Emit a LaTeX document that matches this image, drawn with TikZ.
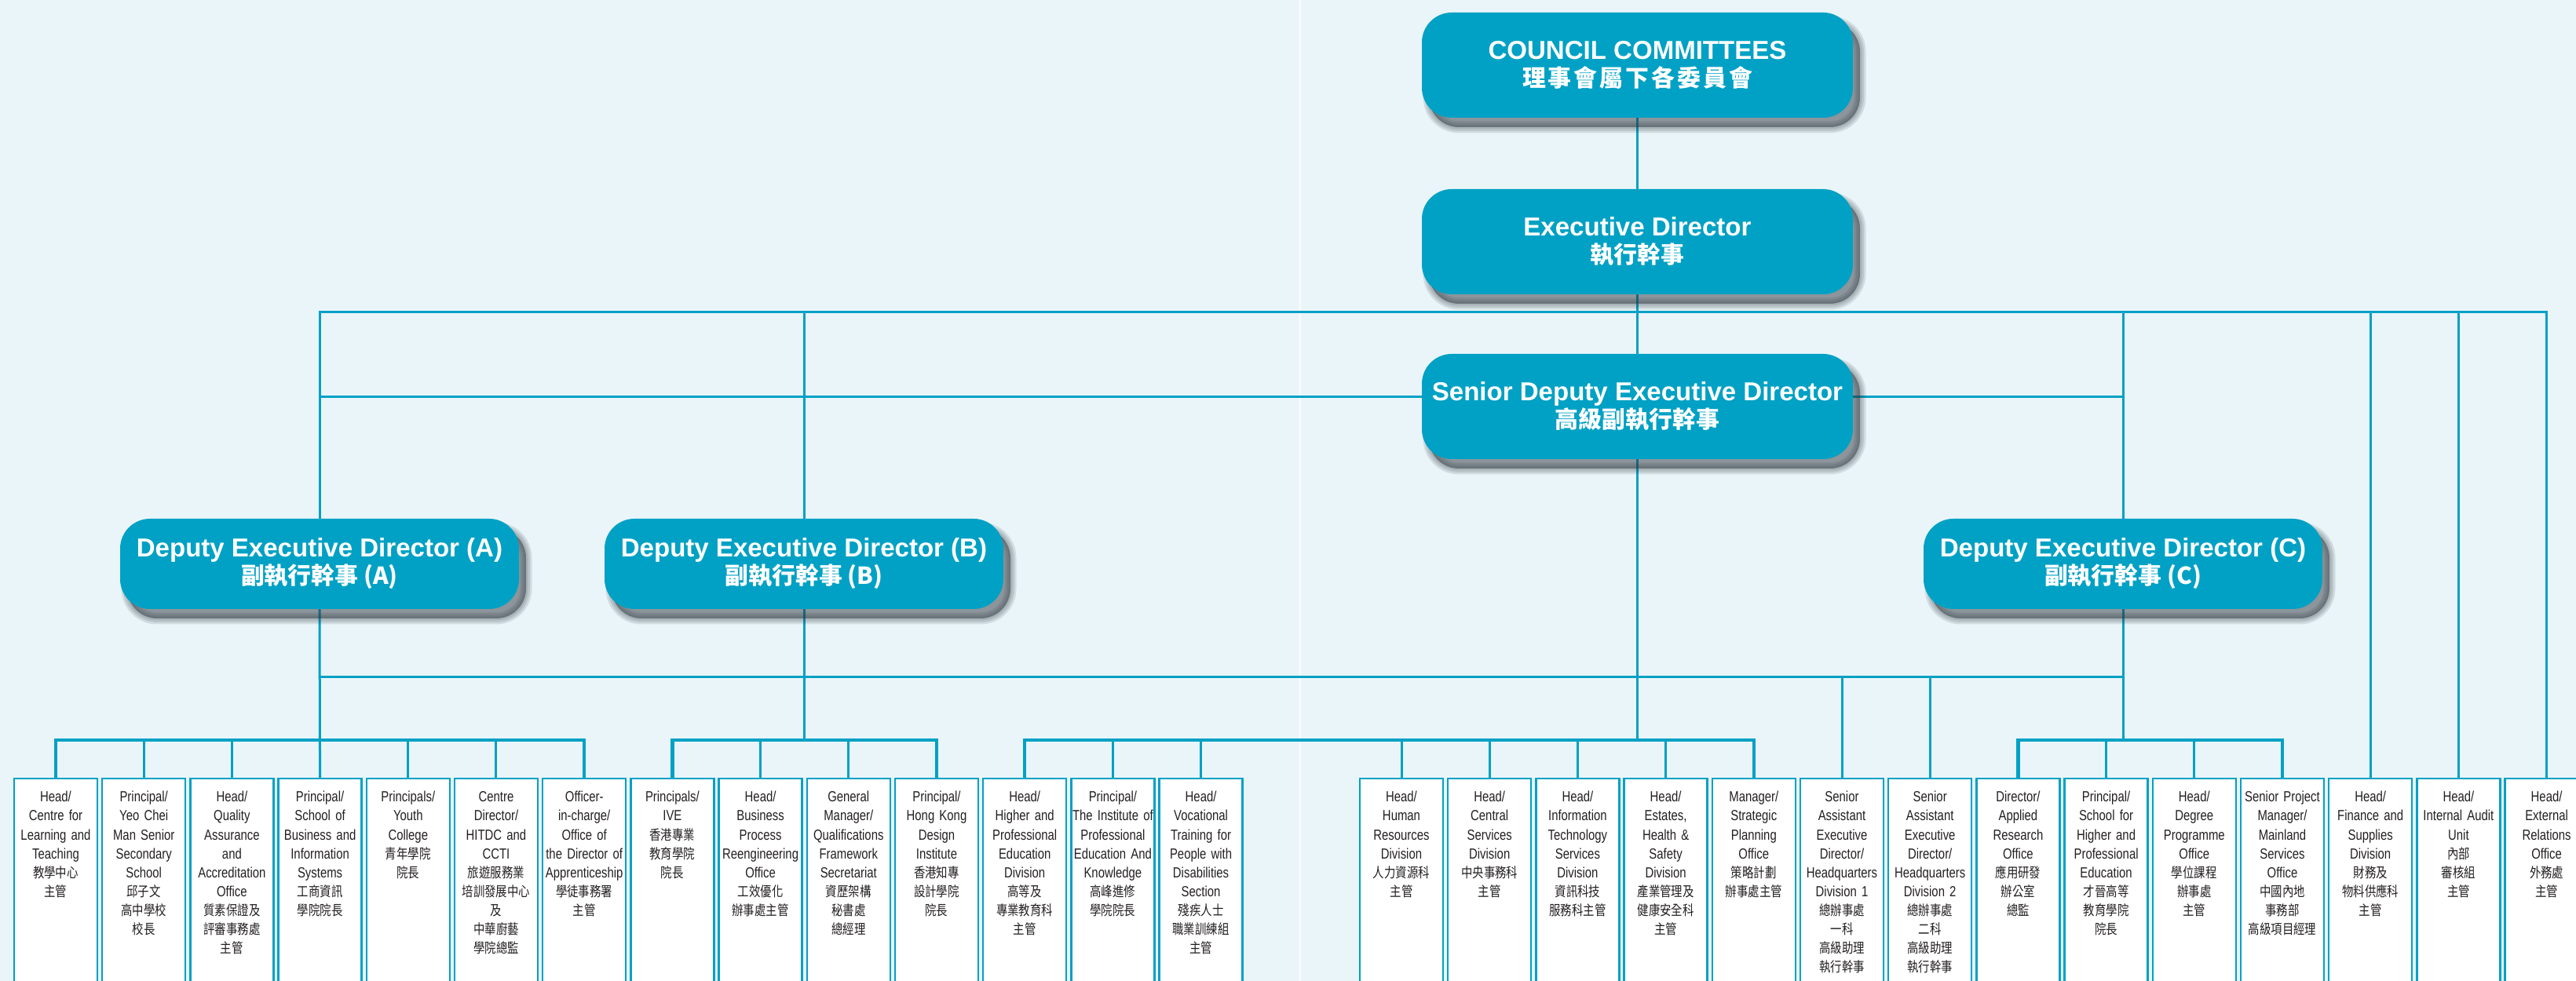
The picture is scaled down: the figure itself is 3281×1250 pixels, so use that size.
\documentclass[tikz,border=0pt]{standalone}
\usepackage{fontspec}
\usetikzlibrary{positioning}

\newfontfamily\headfont{Liberation Sans}
\newfontfamily\boxfont{Liberation Sans}[FakeStretch=0.8]
\newfontfamily\cjkfont{Noto Sans CJK TC}
\newfontfamily\cjknarrow{Noto Sans CJK TC}[FakeStretch=0.82]
\newcommand{\zh}{\cjknarrow\fontsize{5}{6.83}\selectfont}
\newcommand{\zhbig}{\cjkfont\fontsize{8.5}{10}\selectfont}

\definecolor{vtcteal}{RGB}{0,161,196}
\definecolor{paperblue}{RGB}{234,245,250}
\definecolor{inkgrey}{RGB}{35,31,32}
\definecolor{shadowgrey}{RGB}{45,55,62}

\pgfdeclarelayer{paper}
\pgfdeclarelayer{wires}
\pgfsetlayers{paper,wires,main}

\tikzset{
  shadowring/.style={preaction={draw=shadowgrey, draw opacity=0.13, line width=#1,
    transform canvas={xshift=0.9mm, yshift=-1.2mm}}},
  softshadow/.style={preaction={fill=shadowgrey, fill opacity=0.5,
    transform canvas={xshift=0.9mm, yshift=-1.2mm}},
    shadowring=0.5mm, shadowring=1mm, shadowring=1.5mm},
  bigbox/.style={rectangle, rounded corners=3.8mm, fill=vtcteal, text=white,
    align=center, inner sep=0pt, outer sep=0pt,
    minimum width=54.9mm, minimum height=13.4mm,
    font=\headfont\bfseries\fontsize{9.4}{10}\selectfont, softshadow},
  dedbox/.style={bigbox, minimum width=50.8mm, minimum height=11.5mm},
  unitbox/.style={rectangle, draw=vtcteal, line width=0.25mm, fill=white,
    text=inkgrey, align=center, text width=10.6mm, inner sep=0pt, outer sep=0pt,
    text height=3mm, text depth=24mm,
    font=\boxfont\fontsize{5.3}{6.83}\selectfont},
  link/.style={draw=vtcteal, line width=0.3mm},
  sublink/.style={link, line width=0.45mm}
}

\begin{document}
\begin{tikzpicture}[x=0.1mm, y=-0.1mm, node distance=0.62mm]
  \useasboundingbox (0,0) rectangle (3281,1250);
  \begin{pgfonlayer}{paper}
    \fill[paperblue] (0,0) rectangle (3281,1250);
    \draw[white, opacity=0.7, line width=0.2mm] (1656,0) -- (1656,1250);
  \end{pgfonlayer}

  % senior posts
  \node[bigbox] (cc) at (2085.5,83)
    {COUNCIL COMMITTEES\\{\zhbig\addfontfeature{LetterSpace=10}理事會屬下各委員會}};
  \node[bigbox, below=9.1mm of cc] (ed) {Executive Director\\\zhbig 執行幹事};
  \node[bigbox, below=7.6mm of ed] (sded) {Senior Deputy Executive Director\\\zhbig 高級副執行幹事};
  \node[dedbox] (deda) at (407,718.5) {Deputy Executive Director (A)\\\zhbig 副執行幹事 (A)};
  \node[dedbox] (dedb) at (1024,718.5) {Deputy Executive Director (B)\\\zhbig 副執行幹事 (B)};
  \node[dedbox] (dedc) at (2704,718.5) {Deputy Executive Director (C)\\\zhbig 副執行幹事 (C)};

  % units, left page
  \node[unitbox, anchor=north west] (a1) at (18,992) {Head/\\Centre for\\Learning and\\Teaching\\\zh 教學中心\\主管};
  \node[unitbox, right=of a1] (a2) {Principal/\\Yeo Chei\\Man Senior\\Secondary\\School\\\zh 邱子文\\高中學校\\校長};
  \node[unitbox, right=of a2] (a3) {Head/\\Quality\\Assurance\\and\\Accreditation\\Office\\\zh 質素保證及\\評審事務處\\主管};
  \node[unitbox, right=of a3] (a4) {Principal/\\School of\\Business and\\Information\\Systems\\\zh 工商資訊\\學院院長};
  \node[unitbox, right=of a4] (a5) {Principals/\\Youth\\College\\\zh 青年學院\\院長};
  \node[unitbox, right=of a5] (a6) {Centre\\Director/\\HITDC and\\CCTI\\\zh 旅遊服務業\\培訓發展中心\\及\\中華廚藝\\學院總監};
  \node[unitbox, right=of a6] (a7) {Officer-\\in-charge/\\Office of\\the Director of\\Apprenticeship\\\zh 學徒事務署\\主管};
  \node[unitbox, right=of a7] (b1) {Principals/\\IVE\\\zh 香港專業\\教育學院\\院長};
  \node[unitbox, right=of b1] (b2) {Head/\\Business\\Process\\Reengineering\\Office\\\zh 工效優化\\辦事處主管};
  \node[unitbox, right=of b2] (b3) {General\\Manager/\\Qualifications\\Framework\\Secretariat\\\zh 資歷架構\\秘書處\\總經理};
  \node[unitbox, right=of b3] (b4) {Principal/\\Hong Kong\\Design\\Institute\\\zh 香港知專\\設計學院\\院長};
  \node[unitbox, right=of b4] (h1) {Head/\\Higher and\\Professional\\Education\\Division\\\zh 高等及\\專業教育科\\主管};
  \node[unitbox, right=of h1] (h2) {Principal/\\The Institute of\\Professional\\Education And\\Knowledge\\\zh 高峰進修\\學院院長};
  \node[unitbox, right=of h2] (h3) {Head/\\Vocational\\Training for\\People with\\Disabilities\\Section\\\zh 殘疾人士\\職業訓練組\\主管};

  % units, right page
  \node[unitbox, anchor=north west] (s1) at (1732,992) {Head/\\Human\\Resources\\Division\\\zh 人力資源科\\主管};
  \node[unitbox, right=of s1] (s2) {Head/\\Central\\Services\\Division\\\zh 中央事務科\\主管};
  \node[unitbox, right=of s2] (s3) {Head/\\Information\\Technology\\Services\\Division\\\zh 資訊科技\\服務科主管};
  \node[unitbox, right=of s3] (s4) {Head/\\Estates,\\Health \&\\Safety\\Division\\\zh 產業管理及\\健康安全科\\主管};
  \node[unitbox, right=of s4] (s5) {Manager/\\Strategic\\Planning\\Office\\\zh 策略計劃\\辦事處主管};
  \node[unitbox, right=of s5] (d1) {Senior\\Assistant\\Executive\\Director/\\Headquarters\\Division 1\\\zh 總辦事處\\一科\\高級助理\\執行幹事};
  \node[unitbox, right=of d1] (d2) {Senior\\Assistant\\Executive\\Director/\\Headquarters\\Division 2\\\zh 總辦事處\\二科\\高級助理\\執行幹事};
  \node[unitbox, right=of d2] (c1) {Director/\\Applied\\Research\\Office\\\zh 應用研發\\辦公室\\總監};
  \node[unitbox, right=of c1] (c2) {Principal/\\School for\\Higher and\\Professional\\Education\\\zh 才晉高等\\教育學院\\院長};
  \node[unitbox, right=of c2] (c3) {Head/\\Degree\\Programme\\Office\\\zh 學位課程\\辦事處\\主管};
  \node[unitbox, right=of c3] (c4) {Senior Project\\Manager/\\Mainland\\Services\\Office\\\zh 中國內地\\事務部\\高級項目經理};
  \node[unitbox, right=of c4] (f1) {Head/\\Finance and\\Supplies\\Division\\\zh 財務及\\物料供應科\\主管};
  \node[unitbox, right=of f1] (f2) {Head/\\Internal Audit\\Unit\\\zh 內部\\審核組\\主管};
  \node[unitbox, right=of f2] (f3) {Head/\\External\\Relations\\Office\\\zh 外務處\\主管};

  % bus heights
  \coordinate (topbus) at (2085.5,398);
  \coordinate (midbus) at (2085.5,506);
  \coordinate (lowbus) at (2085.5,863);
  \coordinate (subbus) at (2085.5,943);

  \begin{pgfonlayer}{wires}
    \draw[link] (cc.south) -- (ed.north);
    \draw[link] (ed.south) -- (sded.north);
    \draw[link] (deda.north) |- (topbus) -| (f3.north);
    \foreach \n in {dedb,dedc,f1,f2}
      \draw[link] (\n.north) -- (\n.north |- topbus);
    \draw[link] (sded.west |- midbus) -- (deda.north |- midbus);
    \draw[link] (sded.east |- midbus) -- (dedc.north |- midbus);
    \draw[link] (deda.south |- lowbus) -- (dedc.south |- lowbus);
    \draw[link] (deda.south) -- (a4.north);
    \foreach \n in {dedb,sded,dedc}
      \draw[link] (\n.south) -- (\n.south |- subbus);
    \foreach \n in {d1,d2}
      \draw[link] (\n.north) -- (\n.north |- lowbus);
    % groups
    \draw[sublink] (a1.north) -- (a1.north |- subbus) -- (a7.north |- subbus) -- (a7.north);
    \draw[sublink] (b1.north) -- (b1.north |- subbus) -- (b4.north |- subbus) -- (b4.north);
    \draw[sublink] (h1.north) -- (h1.north |- subbus) -- (s5.north |- subbus) -- (s5.north);
    \draw[sublink] (c1.north) -- (c1.north |- subbus) -- (c4.north |- subbus) -- (c4.north);
    \foreach \n in {a2,a3,a5,a6,b2,b3,h2,h3,s1,s2,s3,s4,c2,c3}
      \draw[link] (\n.north) -- (\n.north |- subbus);
  \end{pgfonlayer}
\end{tikzpicture}
\end{document}
